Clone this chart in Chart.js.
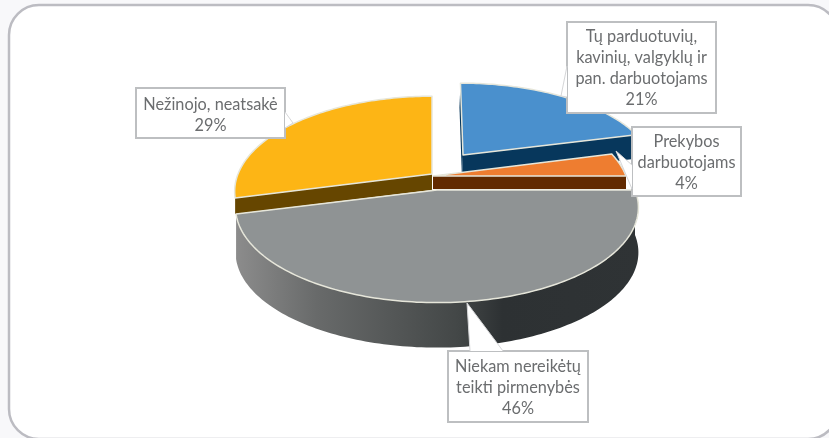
<!DOCTYPE html>
<html>
<head>
<meta charset="utf-8">
<style>
  html, body { margin: 0; padding: 0; background: #fff; }
  canvas { display: block; }
</style>
<script src="https://cdn.jsdelivr.net/npm/chart.js@4"></script>
</head>
<body>
<canvas id="pie-canvas" width="829" height="438"></canvas>
<script>
const categories = ['Tų parduotuvių, kavinių, valgyklų ir pan. darbuotojams', 'Prekybos darbuotojams', 'Niekam nereikėtų teikti pirmenybės', 'Nežinojo, neatsakė'];
const shares = [21, 4, 46, 29];
const labelLines = [
    ['Tų parduotuvių,', 'kavinių, valgyklų ir', 'pan. darbuotojams'],
    ['Prekybos', 'darbuotojams'],
    ['Niekam nereikėtų', 'teikti pirmenybės'],
    ['Nežinojo, neatsakė'],
];
const topColors = ['#4a90cd', '#ee7d30', '#8f9394', '#fdb515'];

// the picture is a perspective pie, every slice has its own apex on screen
const sliceShape = [
    {ax: 463, ay: 155, bx: 188, by: 85, skew: 3, wall: '#07375c', ex: -1, ey: 24},
    {ax: 433, ay: 176, bx: 193, by: 92, skew: 0, wall: '#622a00', ex: 0, ey: 13},
    {ax: 437, ay: 190, bx: 198, by: 92, skew: 0, wall: null, ex: 0, ey: 45},
    {ax: 432, ay: 174, bx: 194, by: 92, skew: 0, wall: '#664600', ex: 0, ey: 16},
];
const tilt = 0.183;
const drawOrder = [0, 3, 1, 2];

// callout box: x, y, w, h and the pointer as three corners
const callouts = [
    {x: 567, y: 22, w: 149, h: 91, textY: 6, tip: [[567, 66], [561, 96], [567, 97]]},
    {x: 632, y: 127, w: 109, h: 69, textY: 6, tip: [[632, 165], [616, 151], [632, 189]]},
    {x: 448, y: 351, w: 140, h: 71, textY: 6, tip: [[503, 351], [467, 303], [470, 351]]},
    {x: 136, y: 88, w: 149, h: 50, textY: 7.5, tip: [[285, 112], [293, 123], [285, 128]]},
];

function project(shape, angle) {
    const cx = Math.cos(angle);
    const cy = Math.sin(angle);
    const w = 1 - tilt * cy;
    return [shape.ax + (shape.bx * cx + shape.skew * cy) / w, shape.ay + shape.by * cy / w];
}

function outerPoints(shape, start, end) {
    const pts = [];
    const steps = Math.ceil((end - start) / 0.02);
    for (let i = 0; i <= steps; i++) {
        pts.push(project(shape, start + (end - start) * i / steps));
    }
    return pts;
}

function tracePoints(ctx, pts) {
    pts.forEach((p, i) => {
        if (i === 0) ctx.moveTo(p[0], p[1]);
        else ctx.lineTo(p[0], p[1]);
    });
}

function drawFlatWall(ctx, shape, a, b) {
    ctx.beginPath();
    tracePoints(ctx, [a, b, [b[0] + shape.ex, b[1] + shape.ey], [a[0] + shape.ex, a[1] + shape.ey]]);
    ctx.closePath();
    ctx.fillStyle = shape.wall;
    ctx.fill();
}

function drawRoundWall(ctx, shape, pts) {
    const grad = ctx.createLinearGradient(236, 0, 640, 0);
    grad.addColorStop(0, '#8c8c8c');
    grad.addColorStop(0.2, '#686a6a');
    grad.addColorStop(0.55, '#434747');
    grad.addColorStop(0.66, '#2d3133');
    grad.addColorStop(1, '#2f3335');
    const shifted = pts.slice().reverse().map(p => [p[0] + shape.ex, p[1] + shape.ey]);
    ctx.beginPath();
    tracePoints(ctx, pts.concat(shifted));
    ctx.closePath();
    ctx.fillStyle = grad;
    ctx.fill();
}

const perspectivePie = {
    id: 'perspectivePie',
    beforeDatasetDraw(chart) {
        const ctx = chart.ctx;
        const arcs = chart.getDatasetMeta(0).data;
        ctx.save();
        drawOrder.forEach(i => {
            const {startAngle, endAngle} = arcs[i].getProps(['startAngle', 'endAngle'], true);
            const shape = sliceShape[i];
            const apex = [shape.ax, shape.ay];
            const pts = outerPoints(shape, startAngle, endAngle);
            if (shape.wall) {
                drawFlatWall(ctx, shape, apex, pts[0]);
                drawFlatWall(ctx, shape, apex, pts[pts.length - 1]);
            } else {
                drawRoundWall(ctx, shape, pts);
            }
            ctx.beginPath();
            tracePoints(ctx, [apex].concat(pts));
            ctx.closePath();
            ctx.fillStyle = topColors[i];
            ctx.fill();
            ctx.lineWidth = 1.5;
            ctx.strokeStyle = '#e6e6da';
            ctx.lineJoin = 'round';
            ctx.stroke();
        });
        ctx.restore();
        return false;
    },
    afterDraw(chart) {
        const ctx = chart.ctx;
        ctx.save();
        ctx.textAlign = 'center';
        ctx.textBaseline = 'alphabetic';
        ctx.font = '16.3px Lato';
        callouts.forEach((box, i) => {
            ctx.beginPath();
            ctx.rect(box.x, box.y, box.w, box.h);
            ctx.fillStyle = '#fff';
            ctx.strokeStyle = '#bdbfc1';
            ctx.lineWidth = 2;
            ctx.fill();
            ctx.stroke();
            // pointer sits on top, white base hides the box border under it
            ctx.beginPath();
            tracePoints(ctx, box.tip);
            ctx.closePath();
            ctx.fill();
            ctx.beginPath();
            tracePoints(ctx, box.tip);
            ctx.lineWidth = 1;
            ctx.strokeStyle = '#d5d6d8';
            ctx.stroke();

            const lines = labelLines[i].concat(shares[i] + '%');
            const cx = box.x + box.w / 2;
            const step = 21;
            const first = box.y + box.h / 2 - (lines.length - 1) * step / 2 + box.textY;
            ctx.fillStyle = '#6b6d6f';
            lines.forEach((line, n) => ctx.fillText(line, cx, first + n * step));
        });
        ctx.restore();
    },
};

const framePlugin = {
    id: 'frame',
    beforeDraw(chart) {
        const ctx = chart.ctx;
        ctx.save();
        ctx.fillStyle = '#f8f8fa';
        ctx.fillRect(0, 0, 829, 438);
        ctx.beginPath();
        ctx.roundRect(9, 5, 829, 434, 30);
        ctx.fillStyle = '#fff';
        ctx.fill();
        ctx.strokeStyle = '#bcbcc2';
        ctx.lineWidth = 2.5;
        ctx.stroke();
        ctx.restore();
    },
};

new Chart(document.querySelector('#pie-canvas'), {
    type: 'pie',
    data: {
        labels: categories,
        datasets: [{
            data: shares,
            backgroundColor: topColors,
        }],
    },
    options: {
        responsive: false,
        animation: false,
        plugins: {
            legend: {display: false},
            tooltip: {enabled: false},
        },
    },
    plugins: [framePlugin, perspectivePie],
});
</script>
</body>
</html>
